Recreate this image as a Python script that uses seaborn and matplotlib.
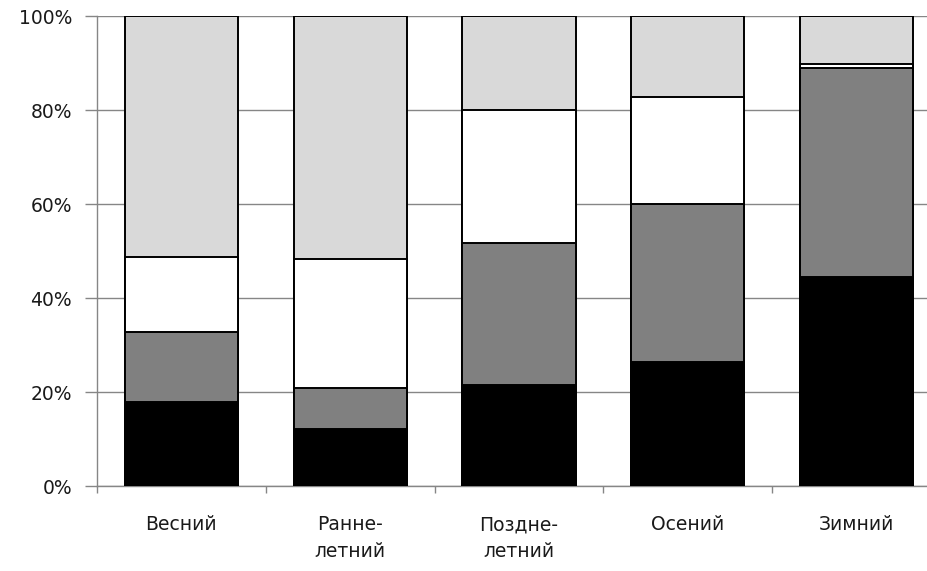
import matplotlib
matplotlib.use("Agg")
import matplotlib.pyplot as plt
import seaborn as sns
import numpy as np
import pandas as pd

categories = ["Весний", "Ранне-\nлетний", "Поздне-\nлетний", "Осений", "Зимний"]
black_part = [17.8, 12.1, 21.4, 26.4, 44.4]
gray_part = [15.0, 8.8, 30.2, 33.7, 44.5]
white_part = [15.9, 27.3, 28.3, 22.7, 0.9]
light_part = [51.3, 51.8, 20.1, 17.2, 10.2]
y_ticks = [0, 20, 40, 60, 80, 100]
y_tick_labels = ["0%", "20%", "40%", "60%", "80%", "100%"]

sns.set_style("white")
plt.rcParams["font.family"] = ["DejaVu Sans"]

layers = [black_part, gray_part, white_part, light_part]
colors = ["#000000", "#808080", "#ffffff", "#d9d9d9"]
raw = np.array(layers, dtype=float)
shares = raw / raw.sum(axis=0) * 100
cum = np.cumsum(shares, axis=0)

fig = plt.figure(figsize=(9.28, 5.71), dpi=100)
ax = fig.add_axes([97 / 928, 85 / 571, 844 / 928, 470 / 571])

# draw from the top of the stack downward so lower segments overlay upper ones
for i in range(len(layers) - 1, -1, -1):
    df = pd.DataFrame({"cat": categories, "val": cum[i]})
    sns.barplot(data=df, x="cat", y="val", color=colors[i], width=0.67,
                edgecolor="#000000", linewidth=1.4, saturation=1, ax=ax, zorder=3)

ax.set_ylim(0, 100)
ax.set_xlim(-0.5, 4.5)
ax.set_yticks(y_ticks)
ax.set_yticklabels(y_tick_labels)
ax.yaxis.grid(True, color="#868686", linewidth=1.0, zorder=0)
ax.set_axisbelow(True)

ax.set_xticks(np.arange(-0.5, 5.0, 1.0))
ax.set_xticklabels([])
ax.set_xticks(np.arange(5), minor=True)
ax.set_xticklabels(categories, minor=True, fontsize=13.5, color="#1a1a1a",
                   linespacing=1.55, va="top")
ax.tick_params(axis="x", which="minor", bottom=True, length=0, pad=21)
ax.tick_params(axis="x", which="major", bottom=True, length=5, width=1,
               color="#868686", direction="out")
ax.tick_params(axis="y", left=True, length=9, width=1, color="#868686", direction="out",
               labelsize=13.5, labelcolor="#1a1a1a", pad=9)

ax.set_xlabel("")
ax.set_ylabel("")
for side in ["top", "right"]:
    ax.spines[side].set_visible(False)
for side in ["left", "bottom"]:
    ax.spines[side].set_color("#868686")
    ax.spines[side].set_linewidth(1.0)

fig.savefig("out.png", dpi=100)
